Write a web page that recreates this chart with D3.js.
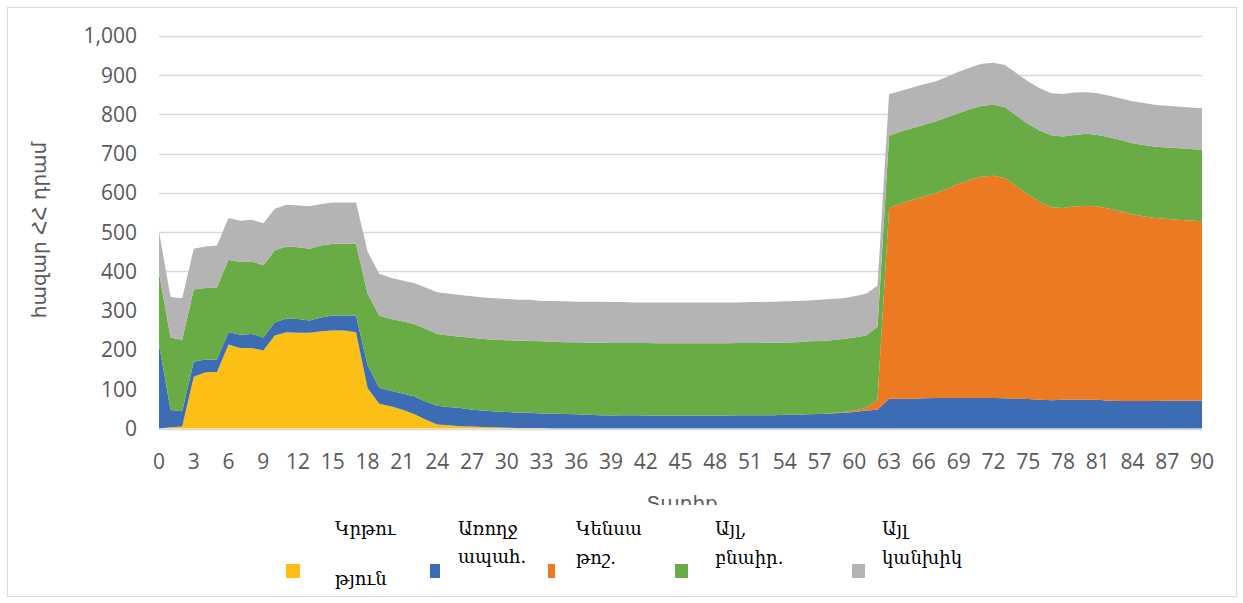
<!DOCTYPE html>
<html>
<head>
<meta charset="utf-8">
<script src="https://cdn.jsdelivr.net/npm/d3@7"></script>
<style>
  html, body { margin: 0; padding: 0; background: #fff; }
  svg { display: block; }
</style>
</head>
<body>
<div id="vis"></div>
<script>
// ages 0..90, one value per year of age
const ages = d3.range(0, 91);
const xTicks = [0, 3, 6, 9, 12, 15, 18, 21, 24, 27, 30, 33, 36, 39, 42, 45, 48, 51, 54, 57, 60, 63, 66, 69, 72, 75, 78, 81, 84, 87, 90];
const yTicks = [0, 100, 200, 300, 400, 500, 600, 700, 800, 900, 1000];

const seriesNames = ['Կրթություն', 'Առողջապահ.', 'Կենսաթոշ.', 'Այլ, բնաիր.', 'Այլ կանխիկ'];
const seriesColors = ['#fbbf16', '#3b6cb4', '#ec7a22', '#69ab45', '#b4b4b4'];

const education = [
  0, 3, 5, 132, 143, 144, 214, 205, 205, 199, 237, 245, 244, 244, 248, 250, 250, 245, 103, 63,
  57, 48, 37, 23, 10, 8, 6, 5, 4, 3, 2, 1, 1, 1, 0, 0, 0, 0, 0, 0,
  0, 0, 0, 0, 0, 0, 0, 0, 0, 0, 0, 0, 0, 0, 0, 0, 0, 0, 0, 0,
  0, 0, 0, 0, 0, 0, 0, 0, 0, 0, 0, 0, 0, 0, 0, 0, 0, 0, 0, 0,
  0, 0, 0, 0, 0, 0, 0, 0, 0, 0, 0
];
const health = [
  214, 44, 39, 38, 33, 32, 32, 34, 36, 33, 34, 35, 35, 31, 35, 38, 38, 43, 58, 41,
  39, 41, 45, 46, 48, 47, 46, 43, 42, 40, 40, 39, 39, 37, 38, 37, 36, 35, 34, 33,
  34, 34, 33, 33, 33, 33, 33, 33, 33, 33, 34, 34, 34, 34, 35, 35, 36, 37, 38, 40,
  42, 46, 48, 76, 76, 76, 77, 78, 78, 78, 78, 78, 78, 77, 76, 75, 73, 72, 73, 73,
  73, 73, 71, 70, 70, 70, 70, 71, 71, 71, 71
];
const pension = [
  0, 0, 0, 0, 0, 0, 0, 0, 0, 0, 0, 0, 0, 0, 0, 0, 0, 0, 0, 0,
  0, 0, 0, 0, 0, 0, 0, 0, 0, 0, 0, 0, 0, 0, 0, 0, 0, 0, 0, 0,
  0, 0, 0, 0, 0, 0, 0, 0, 0, 0, 0, 0, 0, 0, 0, 0, 0, 0, 1, 2,
  4, 7, 26, 486, 497, 507, 514, 522, 533, 545, 556, 564, 566, 561, 541, 521, 504, 492, 489, 493,
  494, 493, 489, 483, 476, 470, 466, 463, 461, 459, 457
];
const otherInKind = [
  182, 185, 182, 184, 182, 184, 184, 185, 185, 184, 183, 184, 183, 183, 183, 183, 183, 183, 182, 184,
  183, 184, 184, 185, 183, 182, 182, 183, 182, 183, 183, 184, 183, 184, 183, 183, 184, 184, 185, 185,
  184, 184, 185, 184, 184, 184, 184, 184, 184, 184, 184, 184, 184, 185, 184, 185, 186, 186, 186, 186,
  186, 184, 185, 184, 184, 182, 183, 182, 182, 180, 180, 180, 181, 181, 180, 180, 182, 183, 182, 182,
  184, 182, 182, 182, 181, 182, 182, 182, 182, 182, 182
];
const otherCash = [
  106, 103, 106, 104, 106, 106, 106, 105, 106, 107, 106, 106, 106, 108, 106, 105, 105, 105, 108, 106,
  105, 104, 105, 105, 106, 107, 106, 106, 106, 106, 105, 104, 105, 103, 104, 104, 103, 104, 104, 104,
  104, 103, 103, 104, 104, 104, 104, 104, 104, 104, 103, 104, 104, 104, 105, 105, 104, 105, 105, 104,
  105, 106, 105, 106, 103, 104, 103, 102, 103, 106, 106, 107, 107, 107, 108, 108, 108, 107, 108, 108,
  106, 106, 106, 106, 107, 107, 106, 106, 106, 106, 106
];

const legendLines = [
  ['Կրթու', 'թյուն'],
  ['Առողջ', 'ապահ.'],
  ['Կենսա', 'թոշ.'],
  ['Այլ,', 'բնաիր.'],
  ['Այլ', 'կանխիկ']
];

function createVis() {
  const width = 1243;
  const height = 603;
  const margin = { top: 36, right: 41, bottom: 174, left: 159 };

  const svg = d3.select('#vis')
    .append('svg')
      .attr('width', width)
      .attr('height', height);

  // chart border
  svg.append('rect')
    .attr('x', 7.5).attr('y', 7.5)
    .attr('width', 1229).attr('height', 589)
    .attr('fill', '#fff')
    .attr('stroke', '#d9d9d9');

  const table = ages.map((a, i) => ({
    age: a,
    s0: education[i], s1: health[i], s2: pension[i], s3: otherInKind[i], s4: otherCash[i]
  }));
  const stack = d3.stack().keys(['s0', 's1', 's2', 's3', 's4'])(table);

  const x = d3.scaleLinear().domain([0, 90]).range([margin.left, width - margin.right]);
  const y = d3.scaleLinear().domain([0, 1000]).range([height - margin.bottom - 0.5, margin.top]);

  // gridlines
  svg.append('g')
    .selectAll('line')
    .data(yTicks.filter(d => d > 0))
    .join('line')
      .attr('x1', x(0)).attr('x2', x(90))
      .attr('y1', d => Math.round(y(d)) + 0.5)
      .attr('y2', d => Math.round(y(d)) + 0.5)
      .attr('stroke', '#d9d9d9')
      .attr('stroke-width', 1.3);

  const area = d3.area()
    .x(d => x(d.data.age))
    .y0(d => y(d[0]))
    .y1(d => y(d[1]));

  svg.append('g')
    .selectAll('path')
    .data(stack)
    .join('path')
      .attr('d', area)
      .attr('fill', (d, i) => seriesColors[i]);

  // baseline
  svg.append('line')
    .attr('x1', x(0)).attr('x2', x(90))
    .attr('y1', y(0) + 1).attr('y2', y(0) + 1)
    .attr('stroke', '#d9d9d9')
    .attr('stroke-width', 1.5);

  // y tick labels
  svg.append('g')
    .selectAll('text')
    .data(yTicks)
    .join('text')
      .attr('x', 137)
      .attr('y', d => y(d))
      .attr('dy', '0.35em')
      .attr('text-anchor', 'end')
      .attr('font-family', 'Open Sans, sans-serif')
      .attr('font-size', 21)
      .attr('fill', '#595959')
      .text(d3.format(','));

  // x tick labels
  svg.append('g')
    .selectAll('text')
    .data(xTicks)
    .join('text')
      .attr('x', d => x(d))
      .attr('y', 469)
      .attr('text-anchor', 'middle')
      .attr('font-family', 'Open Sans, sans-serif')
      .attr('font-size', 21)
      .attr('fill', '#595959')
      .text(d => d);

  // axis titles
  svg.append('text')
    .attr('transform', 'translate(46,230) rotate(-90)')
    .attr('text-anchor', 'middle')
    .attr('font-family', 'DejaVu Sans, sans-serif')
    .attr('font-size', 20)
    .attr('fill', '#595959')
    .text('հազար ՀՀ դրամ');

  svg.append('text')
    .attr('x', 682)
    .attr('y', 510)
    .attr('text-anchor', 'middle')
    .attr('font-family', 'DejaVu Sans, sans-serif')
    .attr('font-size', 20)
    .attr('fill', '#595959')
    .text('Տարիք');

  // legend box covers the lower half of the x title
  const legend = svg.append('g');
  legend.append('rect')
    .attr('x', 280).attr('y', 505)
    .attr('width', 720).attr('height', 89)
    .attr('fill', '#fff');

  const markerX = [286, 430, 548, 675, 852];
  const markerW = [14, 10, 7, 13, 13];
  const textX = [335, 458, 576, 715, 882];
  const line1Y = [535, 535, 535, 535, 535];
  const line2Y = [585, 563, 564, 564, 564];

  legendLines.forEach((lines, i) => {
    legend.append('rect')
      .attr('x', markerX[i]).attr('y', 564)
      .attr('width', markerW[i]).attr('height', 14)
      .attr('fill', seriesColors[i]);
    legend.append('text')
      .attr('x', textX[i]).attr('y', line1Y[i])
      .attr('font-family', 'DejaVu Serif, serif')
      .attr('font-size', 18)
      .attr('fill', '#000')
      .text(lines[0]);
    legend.append('text')
      .attr('x', textX[i]).attr('y', line2Y[i])
      .attr('font-family', 'DejaVu Serif, serif')
      .attr('font-size', 18)
      .attr('fill', '#000')
      .text(lines[1]);
  });
}

createVis();
</script>
</body>
</html>
